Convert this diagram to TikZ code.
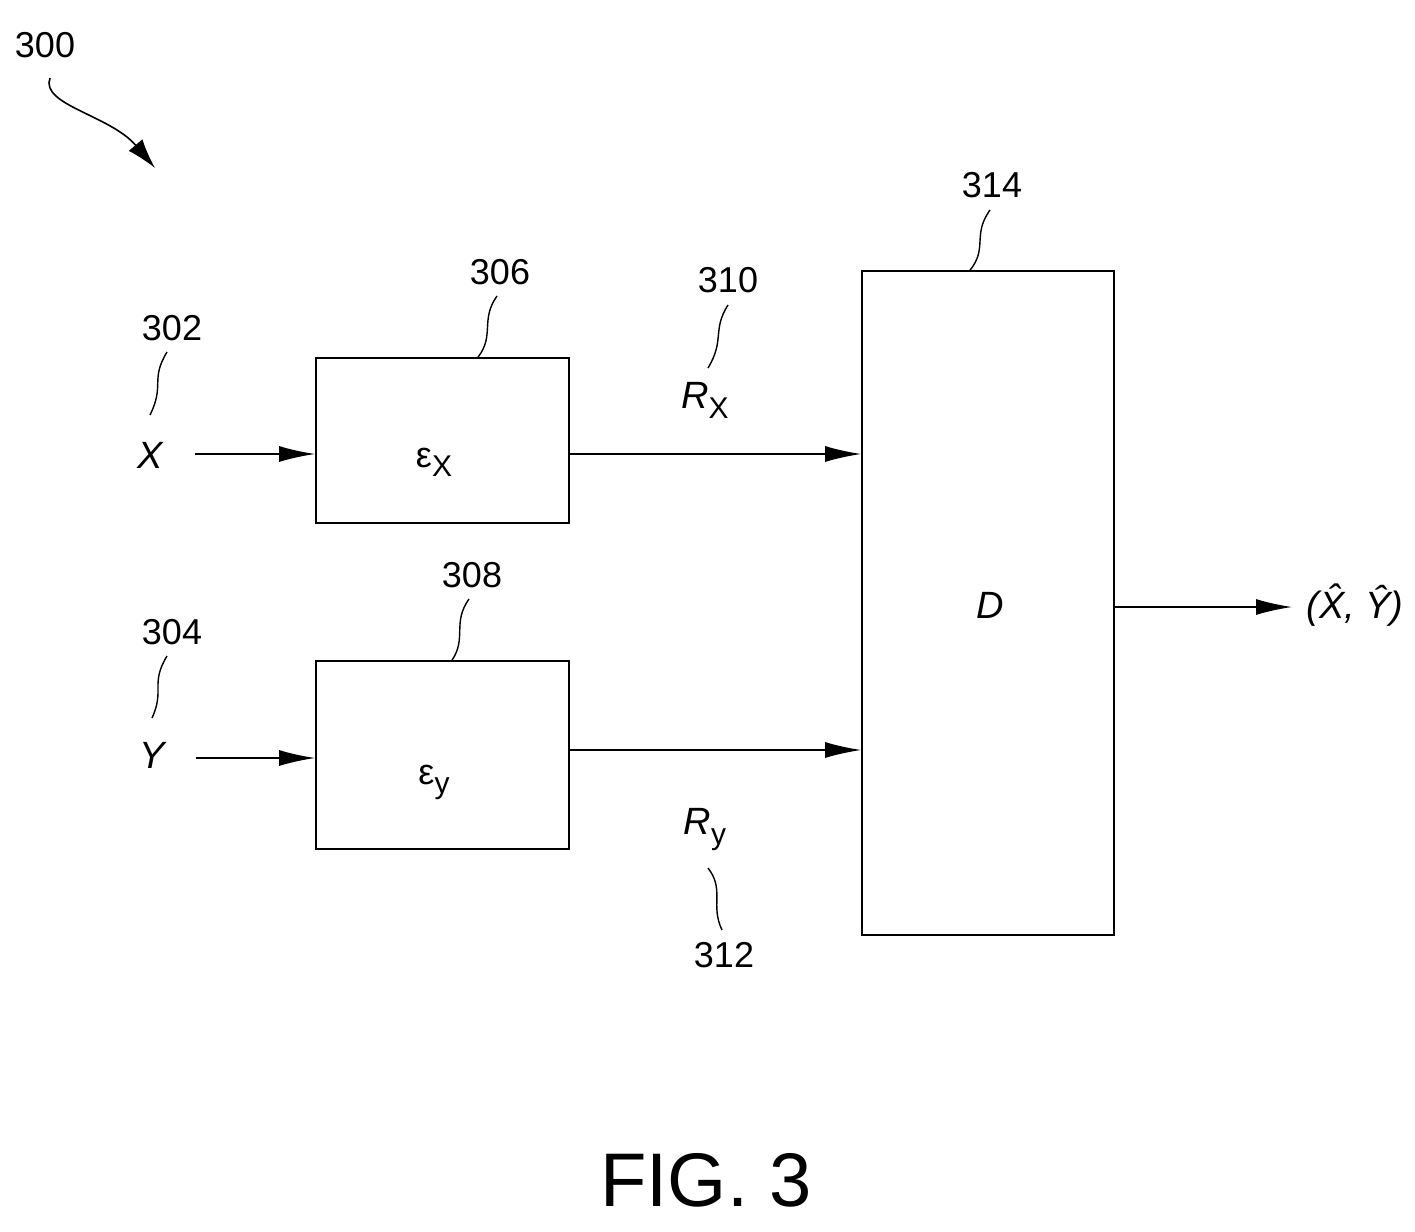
\documentclass[tikz,border=0pt]{standalone}
\usepackage{fontspec}
\setmainfont{Liberation Sans}
\usetikzlibrary{arrows.meta}
\begin{document}
\begin{tikzpicture}[x=1pt,y=-1pt,
  box/.style={draw,line width=1.6pt,inner sep=0pt},
  lbl/.style={font=\fontsize{36}{40}\selectfont,inner sep=0pt},
  sym/.style={font=\fontsize{38}{42}\selectfont\itshape,inner sep=0pt},
  eps/.style={font=\fontsize{36}{40}\selectfont,inner sep=0pt},
  arr/.style={line width=1.6pt,-{Latex[length=36,width=16]}},
  lead/.style={line width=1.4pt}]
\useasboundingbox (0,0) rectangle (1415,1231);
\node[box,minimum width=253,minimum height=165] (ex) at (442.5,440.5) {};
\node[eps] (exl) at (434,462) {ε\raisebox{-9pt}{\fontsize{30}{34}\selectfont X}};
\node[box,minimum width=253,minimum height=188] (ey) at (442.5,755) {};
\node[eps] (eyl) at (434,782) {ε\raisebox{-9pt}{\fontsize{30}{34}\selectfont y}};
\node[box,minimum width=252,minimum height=664] (d) at (988,603) {};
\node[sym] (dl) at (990,605) {D};
\node[sym] (x) at (150,455) {X};
\node[sym] (y) at (152,755) {Y};
\coordinate (xs) at (195,454);
\coordinate (ys) at (196,758);
\draw[arr] (xs) -- (ex.west |- xs);
\draw[arr] (ys) -- (ey.west |- ys);
\draw[arr] (ex.east |- 0,454) -- (d.west |- 0,454);
\draw[arr] (ey.east |- 0,750) -- (d.west |- 0,750);
\coordinate (os) at (1292,607);
\draw[arr] (d.east |- os) -- (os);
\node[sym] (out) at (1355,605) {(\^{X}, \^{Y})};
\node[sym] (rx) at (705,400) {R\raisebox{-10pt}{\upshape\fontsize{30}{34}\selectfont X}};
\node[sym] (ry) at (705,830) {R\raisebox{-10pt}{\upshape\fontsize{30}{34}\selectfont y}};
\node[lbl] (n300) at (45,45) {300};
\node[lbl] (n302) at (172,328) {302};
\node[lbl] (n304) at (172,632) {304};
\node[lbl] (n306) at (500,272) {306};
\node[lbl] (n308) at (472,575) {308};
\node[lbl] (n310) at (728,280) {310};
\node[lbl] (n312) at (724,955) {312};
\node[lbl] (n314) at (992,185) {314};
\node[font=\fontsize{76}{80}\selectfont,inner sep=0pt] (fig) at (706,1180) {FIG. 3};
\coordinate (a300) at (155,168);
\draw[line width=1.6pt,-{Latex[length=30,width=18]}] (50,78) .. controls (40,105) and (110,115) .. (a300);
\draw[lead] (167,352) .. controls (150,380) and (165,385) .. (150,415);
\draw[lead] (167,656) .. controls (150,684) and (165,690) .. (152,718);
\draw[lead] (497,296) .. controls (480,320) and (495,335) .. (ex.north -| 478,0);
\draw[lead] (469,599) .. controls (452,623) and (467,638) .. (ey.north -| 452,0);
\draw[lead] (728,305) .. controls (712,330) and (725,340) .. (708,368);
\draw[lead] (708,868) .. controls (725,890) and (710,905) .. (722,930);
\draw[lead] (990,210) .. controls (972,235) and (988,248) .. (d.north -| 970,0);
\end{tikzpicture}
\end{document}
